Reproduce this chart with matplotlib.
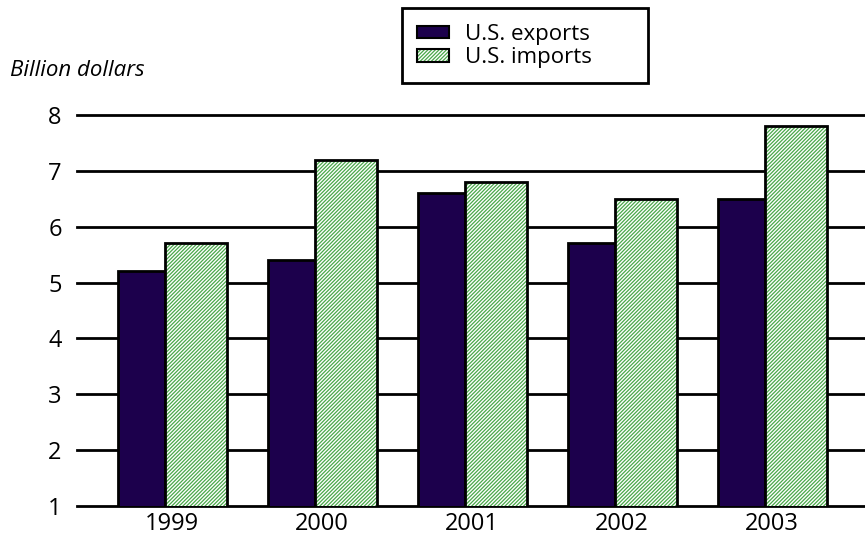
import numpy as np
import matplotlib.pyplot as plt
from matplotlib.patches import Rectangle, Patch

plt.rcParams['font.family'] = ['Open Sans', 'DejaVu Sans']
plt.rcParams['hatch.linewidth'] = 0.9

# data
years = ['1999', '2000', '2001', '2002', '2003']
exports = [5.2, 5.4, 6.6, 5.7, 6.5]
imports = [5.7, 7.2, 6.8, 6.5, 7.8]
yticks = [1, 2, 3, 4, 5, 6, 7, 8]

navy = '#1c004c'
green = '#4aa84a'
hatch = '/' * 9

W, H = 865, 540
fig = plt.figure(figsize=(W / 100, H / 100), dpi=100)

# axes placed in pixels: left 77, right 865, y=8 at 115, y=1 at 506
ax = fig.add_axes([77 / W, (H - 506) / H, (865 - 77) / W, (506 - 115) / H])

x = np.arange(len(years))
exp_w = 47 / 150
imp_w = 62 / 150
ax.bar(x - 54 / 150, exports, width=exp_w, align='edge',
       color=navy, edgecolor='black', linewidth=2, zorder=3)
# hatch layer (green) then a plain outline on top
ax.bar(x - 7 / 150, imports, width=imp_w, align='edge',
       color='white', edgecolor=green, linewidth=0, hatch=hatch, zorder=3)
ax.bar(x - 7 / 150, imports, width=imp_w, align='edge',
       fill=False, edgecolor='black', linewidth=2, zorder=4)

for v in yticks:
    ax.axhline(v, color='black', linewidth=2, zorder=1, clip_on=False)

ax.set_xlim((77 - 172) / 150, (865 - 172) / 150)
ax.set_ylim(1, 8)
ax.set_yticks(yticks)
ax.set_xticks(x)
ax.set_xticklabels(years)
ax.tick_params(axis='both', length=0, labelsize=17)
ax.tick_params(axis='y', pad=11)
ax.tick_params(axis='x', pad=4)
for s in ax.spines.values():
    s.set_visible(False)

fig.text(10 / W, 1 - 70 / H, 'Billion dollars', style='italic', fontsize=16,
         va='center', ha='left')

# legend box
fig.patches.append(Rectangle((402 / W, 1 - 83 / H), (648 - 402) / W, (83 - 8) / H,
                             transform=fig.transFigure, fill=False,
                             edgecolor='black', linewidth=2))
h_exp = Patch(facecolor=navy, edgecolor='black', linewidth=1.5)
h_imp = (Patch(facecolor='white', edgecolor=green, linewidth=0, hatch=hatch),
         Patch(fill=False, edgecolor='black', linewidth=1.5))
fig.legend([h_exp, h_imp], ['U.S. exports', 'U.S. imports'], loc='upper left',
           bbox_to_anchor=(417 / W, 1 - 24 / H),
           frameon=False, fontsize=16, handlelength=1.45, handleheight=0.5,
           handletextpad=0.72, labelspacing=0.1, borderpad=0, borderaxespad=0)

fig.savefig('out.png', dpi=100)
